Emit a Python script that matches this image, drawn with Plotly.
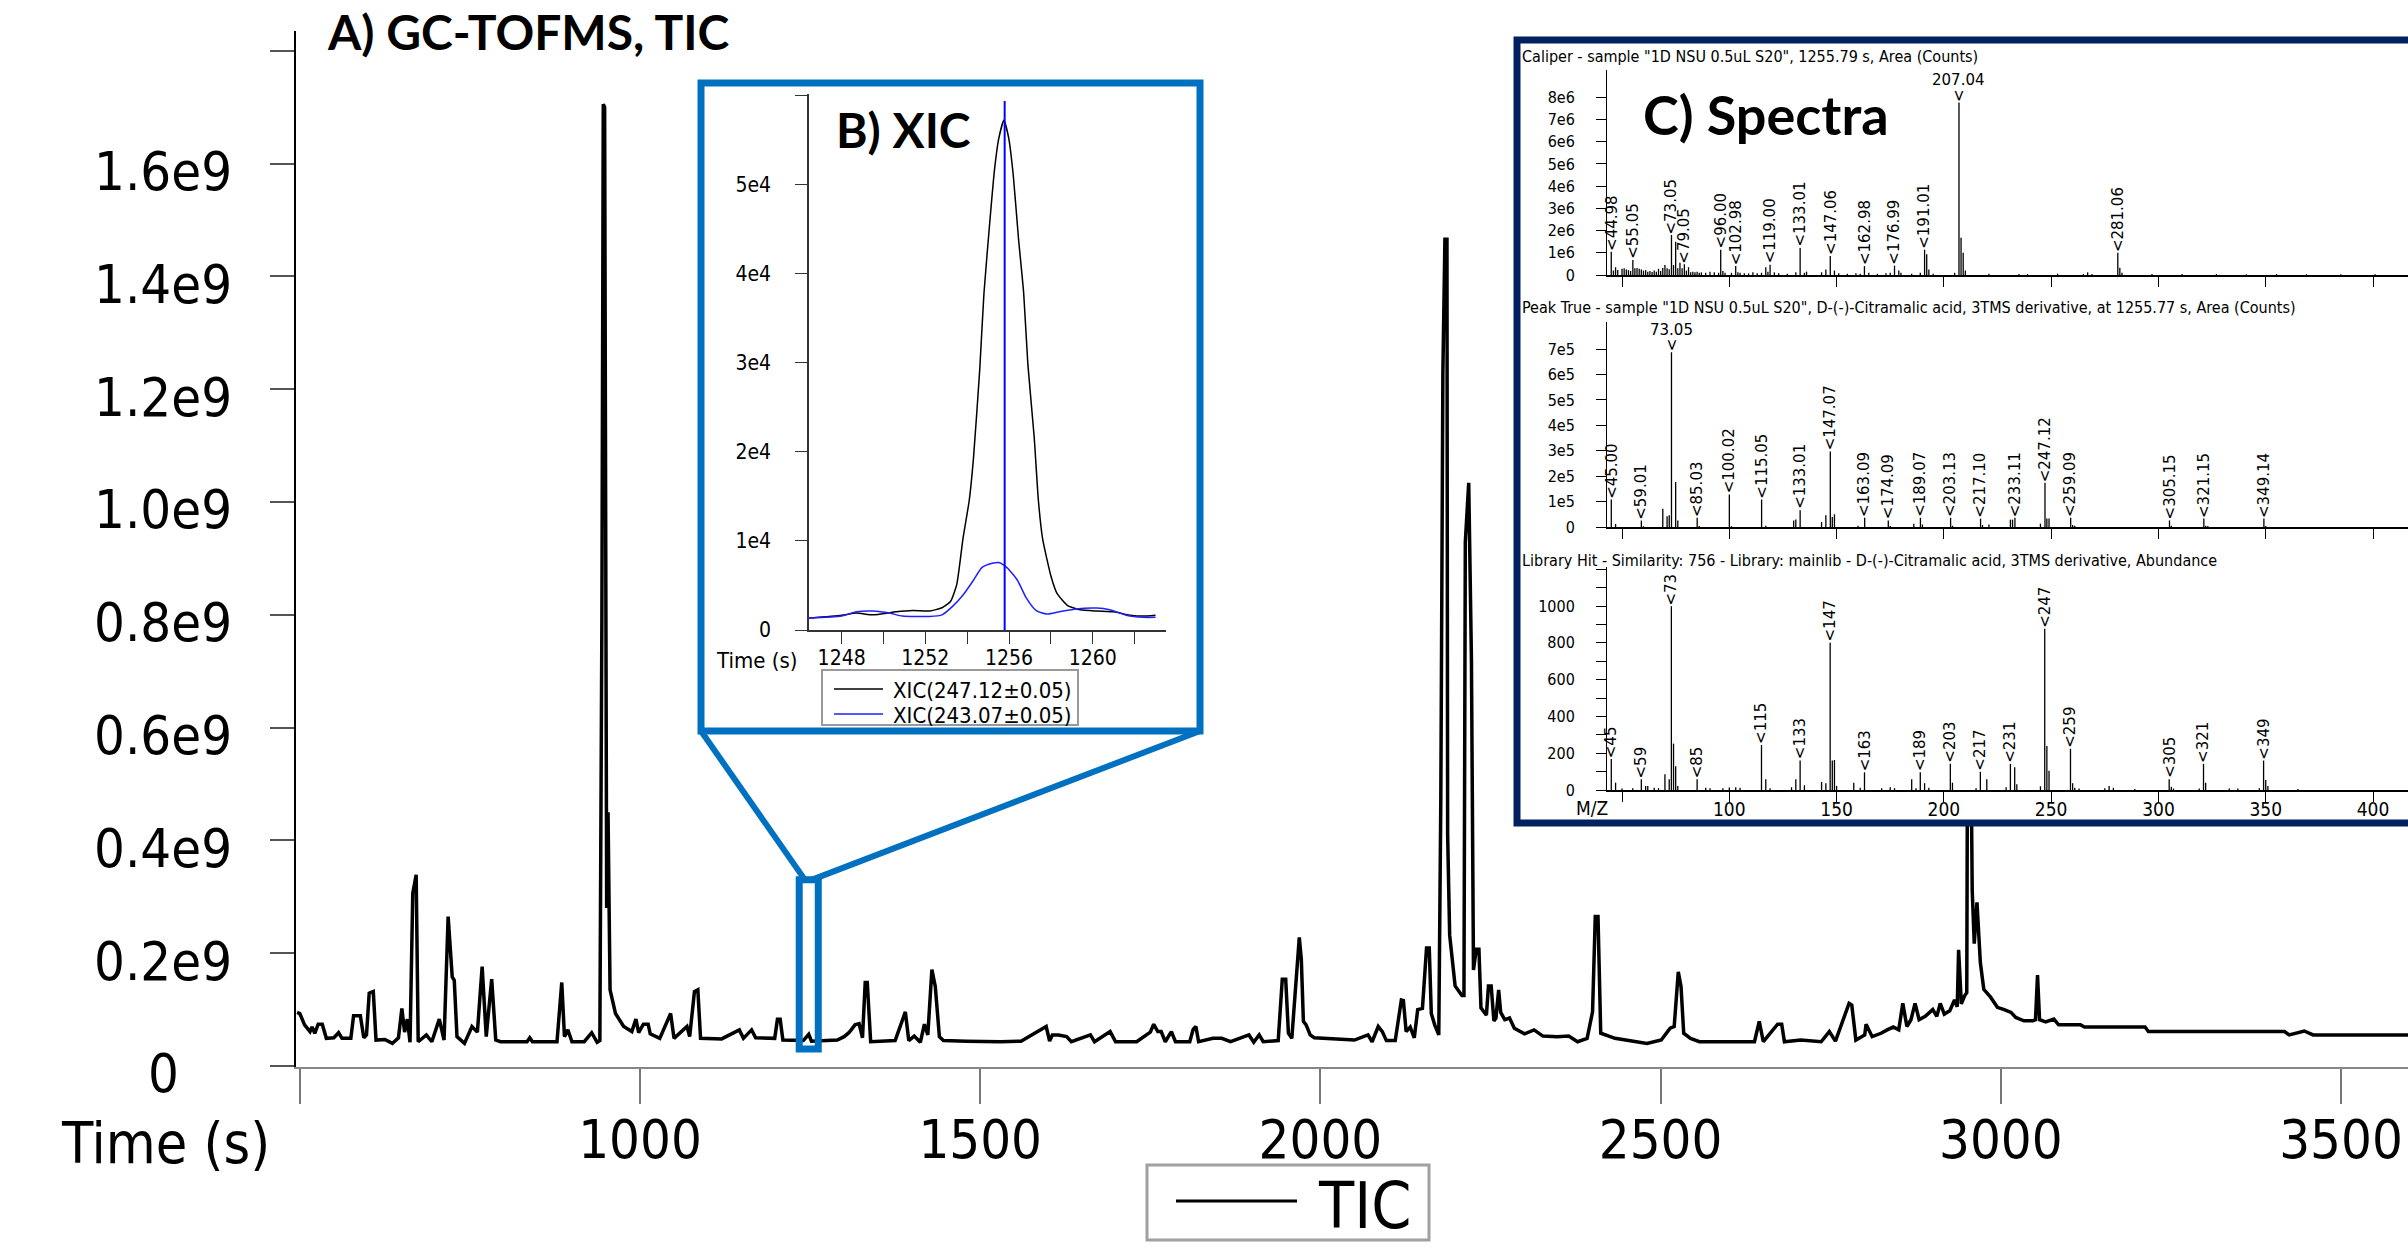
import plotly.graph_objects as go

# ======================= DATA =======================
# A) GC-TOFMS total ion chromatogram (time in s, intensity in units of 1e9)
tic_time = [
    496, 500, 507, 515, 518, 522, 527, 533, 539, 550,
    557, 562, 575, 579, 589, 594, 598, 602, 608, 612,
    625, 636, 645, 650, 654, 658, 662, 666, 671, 674,
    686, 694, 705, 712, 718, 724, 727, 731, 742, 753,
    761, 768, 774, 782, 788, 795, 834, 838, 842, 878,
    885, 889, 894, 900, 918, 929, 937, 941, 944, 946,
    948, 950, 951, 953, 956, 964, 976, 988, 994, 998,
    1005, 1012, 1015, 1029, 1045, 1050, 1064, 1069, 1073, 1080,
    1085, 1089, 1120, 1146, 1152, 1164, 1170, 1198, 1202, 1206,
    1210, 1240, 1248, 1252, 1290, 1300, 1307, 1316, 1322, 1327,
    1331, 1334, 1339, 1375, 1390, 1395, 1403, 1412, 1418, 1423,
    1429, 1434, 1440, 1446, 1480, 1530, 1560, 1592, 1597, 1602,
    1606, 1615, 1627, 1634, 1662, 1668, 1691, 1699, 1730, 1750,
    1755, 1761, 1766, 1772, 1781, 1787, 1808, 1813, 1817, 1821,
    1842, 1855, 1868, 1895, 1902, 1910, 1916, 1938, 1944, 1949,
    1953, 1958, 1963, 1969, 1972, 1975, 1979, 1985, 1991, 2050,
    2070, 2076, 2085, 2091, 2097, 2110, 2119, 2122, 2126, 2132,
    2138, 2143, 2150, 2156, 2160, 2163, 2168, 2174, 2177, 2180,
    2183, 2186, 2187, 2190, 2198, 2208, 2211, 2213, 2218, 2222,
    2225, 2229, 2233, 2236, 2244, 2247, 2251, 2255, 2258, 2262,
    2265, 2271, 2278, 2285, 2300, 2314, 2327, 2348, 2365, 2378,
    2392, 2400, 2404, 2408, 2412, 2433, 2480, 2501, 2514, 2520,
    2526, 2530, 2534, 2544, 2557, 2638, 2645, 2651, 2672, 2678,
    2682, 2706, 2736, 2748, 2757, 2777, 2781, 2787, 2800, 2802,
    2811, 2824, 2833, 2842, 2850, 2856, 2862, 2868, 2874, 2880,
    2889, 2900, 2906, 2911, 2917, 2925, 2932, 2936, 2938, 2942,
    2947, 2950, 2952, 2955, 2957, 2958, 2961, 2965, 2970, 2975,
    2985, 2995, 3005, 3015, 3022, 3034, 3047, 3051, 3054, 3057,
    3066, 3078, 3085, 3117, 3123, 3212, 3217, 3417, 3424, 3446,
    3459, 3599,
]
tic_e9 = [
    .095, .093, .073, .061, .069, .058, .074, .074, .049, .050,
    .059, .049, .049, .089, .089, .050, .055, .129, .132, .046,
    .047, .040, .050, .102, .060, .083, .042, .306, .339, .043,
    .055, .043, .083, .046, .265, .158, .152, .052, .040, .070,
    .060, .176, .052, .154, .046, .043, .043, .050, .043, .043,
    .148, .052, .064, .043, .043, .059, .042, .045, .800, 1.705,
    1.700, .900, .280, .450, .135, .093, .070, .061, .083, .059,
    .074, .074, .057, .049, .093, .049, .064, .070, .052, .132,
    .135, .049, .048, .064, .049, .064, .050, .049, .083, .083,
    .046, .045, .056, .044, .046, .052, .059, .073, .075, .050,
    .148, .148, .043, .045, .096, .045, .053, .042, .074, .055,
    .171, .141, .052, .045, .044, .043, .044, .067, .070, .044,
    .055, .055, .052, .043, .055, .043, .061, .043, .043, .060,
    .074, .061, .061, .043, .061, .043, .043, .065, .070, .043,
    .049, .049, .043, .055, .042, .055, .043, .045, .154, .154,
    .058, .049, .135, .228, .188, .079, .073, .055, .050, .046,
    .055, .043, .070, .061, .045, .045, .117, .116, .061, .069,
    .050, .100, .102, .209, .209, .093, .073, .055, .475, 1.227,
    1.466, 1.466, .411, .232, .142, .125, .125, .929, 1.034, .720,
    .170, .207, .207, .103, .090, .142, .142, .080, .085, .135,
    .095, .082, .085, .067, .057, .064, .053, .052, .053, .043,
    .049, .096, .265, .265, .058, .049, .040, .046, .067, .070,
    .167, .141, .058, .049, .043, .043, .079, .043, .074, .074,
    .043, .046, .043, .061, .044, .111, .108, .046, .055, .074,
    .052, .058, .064, .069, .064, .111, .070, .082, .111, .082,
    .088, .100, .088, .111, .092, .098, .117, .105, .206, .110,
    .125, .130, .950, .950, .450, .312, .217, .290, .183, .136,
    .122, .104, .100, .095, .086, .080, .080, .082, .161, .082,
    .078, .083, .073, .073, .069, .069, .061, .061, .055, .062,
    .055, .055,
]
assert len(tic_time) == len(tic_e9)

main_xtick_vals = [500, 1000, 1500, 2000, 2500, 3000, 3500]
main_xtick_text = ["", "1000", "1500", "2000", "2500", "3000", "3500"]
main_ytick_e9 = [0, 0.2, 0.4, 0.6, 0.8, 1.0, 1.2, 1.4, 1.6, 1.8]
main_ytick_text = ["0", "0.2e9", "0.4e9", "0.6e9", "0.8e9", "1.0e9", "1.2e9", "1.4e9", "1.6e9", ""]

# zoom window marked on the TIC (time s, intensity e9)
zoom_window_time = [1234, 1262]
zoom_window_e9 = [0.03, 0.33]

# B) extracted ion chromatograms
xic_time_247 = [1246.44, 1248.0, 1248.7, 1249.5, 1250.6, 1251.4, 1252.2, 1252.8, 1253.2, 1253.5,
                1253.8, 1254.1, 1254.3, 1254.6, 1254.8, 1255.1, 1255.3, 1255.5, 1255.75, 1255.98,
                1256.2, 1256.45, 1256.7, 1256.9, 1257.2, 1257.4, 1257.6, 1258.0, 1258.3, 1258.8,
                1259.4, 1260.2, 1261.0, 1261.8, 1262.4, 1263.0]
xic_int_247 = [1330, 1660, 1900, 1700, 2040, 2180, 2130, 2500, 3200, 5100,
               10300, 14600, 19300, 29300, 37800, 46400, 51600, 55100, 57250, 55300,
               51100, 44000, 37800, 29800, 21700, 14600, 10300, 6070, 4080, 2750,
               2270, 2130, 2040, 1660, 1560, 1660]
xic_time_243 = [1246.44, 1248.0, 1248.7, 1249.5, 1250.3, 1250.9, 1252.2, 1252.8, 1253.3, 1253.8,
                1254.3, 1254.7, 1255.2, 1255.5, 1255.9, 1256.4, 1256.8, 1257.3, 1257.8, 1258.4,
                1259.2, 1260.2, 1260.8, 1261.6, 1262.4, 1263.0]
xic_int_243 = [1330, 1560, 2040, 2130, 1900, 1560, 1520, 1700, 2650, 3930,
               5590, 7010, 7490, 7580, 7010, 5590, 3700, 2180, 1800, 2040,
               2370, 2460, 2270, 1660, 1420, 1420]
xic_names = ["XIC(247.12\u00b10.05)", "XIC(243.07\u00b10.05)"]
xic_marker_time = 1255.79
xic_xtick_vals = [1248, 1250, 1252, 1254, 1256, 1258, 1260, 1262]
xic_xtick_text = ["1248", "", "1252", "", "1256", "", "1260", ""]
xic_ytick_vals = [0, 10000, 20000, 30000, 40000, 50000, 60000]
xic_ytick_text = ["0", "1e4", "2e4", "3e4", "4e4", "5e4", ""]

# C) spectra
spec_xtick_vals = [50, 100, 150, 200, 250, 300, 350, 400]
spec_xtick_text = ["", "100", "150", "200", "250", "300", "350", "400"]

s1_title = 'Caliper - sample "1D NSU 0.5uL S20", 1255.79 s, Area (Counts)'
s1_lab_mz = [44.98, 55.05, 73.05, 79.05, 96.00, 102.98, 119.00, 133.01, 147.06, 162.98, 176.99, 191.01, 207.04, 281.06]
s1_lab_e6 = [1.05, 0.68, 1.80, 0.48, 1.14, 0.40, 0.46, 1.22, 0.85, 0.40, 0.42, 1.14, 7.77, 1.00]
s1_minor_mz = [46, 47, 48, 50, 51, 52, 53, 54, 56, 57,
               58, 59, 60, 61, 62, 63, 64, 65, 66, 67,
               68, 69, 70, 71, 72, 74, 75, 76, 77, 78,
               80, 81, 82, 83, 84, 85, 86, 87, 89, 91,
               93, 95, 97, 98, 101, 104, 105, 107, 109, 111,
               113, 115, 117, 118, 121, 123, 127, 131, 135, 136,
               143, 145, 149, 151, 155, 159, 161, 165, 169, 173,
               175, 179, 180, 185, 189, 192, 193, 195, 205, 208,
               209, 210, 221, 235, 239, 253, 265, 267, 269, 282,
               283, 297, 311, 327, 341, 355, 369, 385, 401]
s1_minor_e6 = [0.20, 0.35, 0.22, 0.28, 0.30, 0.25, 0.22, 0.18, 0.30, 0.32,
               0.28, 0.25, 0.20, 0.22, 0.15, 0.18, 0.14, 0.20, 0.15, 0.28,
               0.18, 0.32, 0.45, 0.30, 0.26, 0.45, 1.50, 0.30, 0.55, 0.30,
               0.20, 0.35, 0.12, 0.15, 0.12, 0.15, 0.10, 0.12, 0.10, 0.15,
               0.12, 0.10, 0.18, 0.10, 0.10, 0.12, 0.10, 0.08, 0.07, 0.12,
               0.08, 0.10, 0.35, 0.15, 0.12, 0.08, 0.06, 0.12, 0.10, 0.15,
               0.12, 0.25, 0.20, 0.08, 0.06, 0.08, 0.06, 0.10, 0.05, 0.08,
               0.10, 0.20, 0.10, 0.06, 0.10, 0.93, 0.25, 0.06, 0.10, 1.68,
               1.00, 0.20, 0.06, 0.05, 0.04, 0.06, 0.04, 0.12, 0.05, 0.33,
               0.10, 0.05, 0.04, 0.04, 0.03, 0.04, 0.03, 0.03, 0.03]
s1_ytick_e6 = [0, 1, 2, 3, 4, 5, 6, 7, 8]
s1_ytick_text = ["0", "1e6", "2e6", "3e6", "4e6", "5e6", "6e6", "7e6", "8e6"]
s1_flat_labels = [207.04]

s2_title = 'Peak True - sample "1D NSU 0.5uL S20", D-(-)-Citramalic acid, 3TMS derivative, at 1255.77 s, Area (Counts)'
s2_lab_mz = [45.00, 59.01, 73.05, 85.03, 100.02, 115.05, 133.01, 147.07, 163.09, 174.09,
             189.07, 203.13, 217.10, 233.11, 247.12, 259.09, 305.15, 321.15, 349.14]
s2_lab_e5 = [1.08, 0.26, 6.88, 0.36, 1.28, 1.08, 0.66, 2.97, 0.36, 0.26,
             0.36, 0.36, 0.33, 0.36, 1.74, 0.36, 0.26, 0.33, 0.33]
s2_minor_mz = [47, 60, 69, 71, 72, 75, 76, 86, 101, 117,
               130, 131, 143, 145, 148, 149, 160, 175, 186, 190,
               204, 218, 221, 231, 232, 245, 248, 249, 260, 261,
               306, 322, 323, 350]
s2_minor_e5 = [0.12, 0.03, 0.72, 0.42, 0.46, 1.77, 0.26, 0.04, 0.03, 0.05,
               0.26, 0.30, 0.20, 0.46, 0.39, 0.50, 0.05, 0.04, 0.13, 0.10,
               0.05, 0.08, 0.10, 0.29, 0.29, 0.13, 0.33, 0.33, 0.08, 0.05,
               0.05, 0.05, 0.04, 0.04]
s2_ytick_e5 = [0, 1, 2, 3, 4, 5, 6, 7]
s2_ytick_text = ["0", "1e5", "2e5", "3e5", "4e5", "5e5", "6e5", "7e5"]
s2_flat_labels = [73.05]

s3_title = "Library Hit - Similarity: 756 - Library: mainlib - D-(-)-Citramalic acid, 3TMS derivative, Abundance"
s3_lab_mz = [45, 59, 73, 85, 115, 133, 147, 163, 189, 203, 217, 231, 247, 259, 305, 321, 349]
s3_lab_ab = [169, 59, 999, 59, 245, 160, 800, 96, 96, 142, 99, 142, 877, 224, 59, 142, 160]
s3_minor_mz = [47, 61, 62, 70, 72, 74, 75, 76, 100, 117,
               131, 135, 143, 145, 148, 149, 150, 158, 185, 191,
               204, 220, 233, 234, 248, 249, 260, 277, 306, 322,
               350, 351, 50, 55, 65, 67, 89, 91, 97, 103,
               105, 119, 129, 161, 171, 175, 177, 187, 193, 215,
               229, 245, 261, 263, 275, 279, 289, 307, 319, 333,
               337, 347, 365]
s3_minor_ab = [40, 22, 22, 86, 59, 252, 129, 22, 13, 59,
               59, 26, 44, 37, 160, 163, 22, 40, 59, 37,
               40, 59, 123, 31, 239, 105, 37, 22, 18, 40,
               55, 22, 8, 10, 12, 10, 12, 10, 10, 15,
               12, 10, 15, 12, 10, 15, 10, 10, 12, 10,
               15, 20, 12, 8, 10, 12, 6, 8, 8, 8,
               8, 10, 5]
s3_ytick_vals = [0, 100, 200, 300, 400, 500, 600, 700, 800, 900, 1000, 1100, 1200]
s3_ytick_text = ["0", "", "200", "", "400", "", "600", "", "800", "", "1000", "", ""]
s3_flat_labels = []

# ======================= GEOMETRY / STYLE =======================
W, H = 2408, 1253
PL, PR, PT, PB = 296, 2408, 31, 1067       # main plot area in pixels


def fx(p):
    return (p - PL) / (PR - PL)


def fy(p):
    return (PB - p) / (PB - PT)


NARROW = "DejaVu Sans Condensed, Liberation Sans Narrow, Liberation Sans, sans-serif"
BOLD = "Lato, Roboto, DejaVu Sans, sans-serif"
SPEC = "DejaVu Sans, Verdana, sans-serif"
BLUE_BOX = "#0070C0"
NAVY = "#002060"
XIC_BLUE = "#2020ff"
BIG = 54

main_xr = [494.4, 3598.5]
main_yr = [-0.0018e9, 1.835e9]


def dx(t):  # data -> paper for main x
    return (t - main_xr[0]) / (main_xr[1] - main_xr[0])


def dy(v):
    return (v - main_yr[0]) / (main_yr[1] - main_yr[0])


def sticks(mz, val, scale):
    xs, ys = [], []
    for m, v in zip(mz, val, strict=True):
        xs += [m, m, None]
        ys += [0, v * scale, None]
    return xs, ys


fig = go.Figure()

# main TIC
fig.add_trace(go.Scatter(x=tic_time, y=[v * 1e9 for v in tic_e9], mode="lines",
                         line=dict(color="black", width=3.5), name="TIC",
                         xaxis="x", yaxis="y", showlegend=False))
# XIC inset
fig.add_trace(go.Scatter(x=xic_time_247, y=xic_int_247, mode="lines",
                         line=dict(color="black", width=1.5, shape="spline", smoothing=0.5),
                         name=xic_names[0], xaxis="x2", yaxis="y2", showlegend=False))
fig.add_trace(go.Scatter(x=xic_time_243, y=xic_int_243, mode="lines",
                         line=dict(color=XIC_BLUE, width=1.5, shape="spline", smoothing=0.6),
                         name=xic_names[1], xaxis="x2", yaxis="y2", showlegend=False))
# white cover behind the spectra panel
fig.add_trace(go.Scatter(x=[None], y=[None], xaxis="x3", yaxis="y3", showlegend=False, hoverinfo="skip"))

spectra = [
    ("x4", "y4", s1_lab_mz, s1_lab_e6, s1_minor_mz, s1_minor_e6, 1e6, s1_flat_labels, "{:.2f}"),
    ("x5", "y5", s2_lab_mz, s2_lab_e5, s2_minor_mz, s2_minor_e5, 1e5, s2_flat_labels, "{:.2f}"),
    ("x6", "y6", s3_lab_mz, s3_lab_ab, s3_minor_mz, s3_minor_ab, 1.0, s3_flat_labels, "{:.0f}"),
]
LABFONT = dict(size=15, family=SPEC, color="black")
annotations = []
for xa, ya, lmz, lval, mmz, mval, sc, flat, fmt in spectra:
    xs, ys = sticks(list(lmz) + list(mmz), list(lval) + list(mval), sc)
    fig.add_trace(go.Scatter(x=xs, y=ys, mode="lines", line=dict(color="black", width=1.3),
                             xaxis=xa, yaxis=ya, showlegend=False, hoverinfo="skip"))
    for m, v in zip(lmz, lval, strict=True):
        txt = fmt.format(m)
        if m in flat:
            annotations.append(dict(x=m, y=v * sc, xref=xa, yref=ya, text="<", textangle=-90,
                                    xanchor="center", yanchor="bottom", showarrow=False, borderpad=0,
                                    font=LABFONT))
            annotations.append(dict(x=m, y=v * sc, xref=xa, yref=ya, text=txt, yshift=12,
                                    xanchor="center", yanchor="bottom", showarrow=False, borderpad=0,
                                    font=LABFONT))
        else:
            annotations.append(dict(x=m, y=v * sc, xref=xa, yref=ya, text="<" + txt, textangle=-90,
                                    xanchor="center", yanchor="bottom", showarrow=False, borderpad=0,
                                    font=LABFONT))

# main y tick labels (centred, as in the original)
for v, t in zip(main_ytick_e9, main_ytick_text, strict=True):
    if t:
        annotations.append(dict(x=fx(163), xref="paper", y=v * 1e9, yref="y", text=t, showarrow=False,
                                xanchor="center", yanchor="middle", yshift=-8,
                                font=dict(size=BIG, family=NARROW, color="black")))

annotations += [
    dict(x=fx(165), y=fy(1143), xref="paper", yref="paper", text="Time (s)", showarrow=False,
         xanchor="center", yanchor="middle", font=dict(size=57, family=NARROW, color="black")),
    dict(x=fx(325), y=fy(31), xref="paper", yref="paper", text="<b>A) GC-TOFMS, TIC</b>", showarrow=False,
         xanchor="left", yanchor="middle", font=dict(size=48, family=BOLD, color="black")),
    dict(x=fx(834), y=fy(130), xref="paper", yref="paper", text="<b>B) XIC</b>", showarrow=False,
         xanchor="left", yanchor="middle", font=dict(size=48, family=BOLD, color="black")),
    dict(x=fx(1641), y=fy(115), xref="paper", yref="paper", text="<b>C) Spectra</b>", showarrow=False,
         xanchor="left", yanchor="middle", font=dict(size=54, family=BOLD, color="black")),
    dict(x=fx(756), y=fy(660), xref="paper", yref="paper", text="Time (s)", showarrow=False,
         xanchor="center", yanchor="middle", font=dict(size=22, family=NARROW, color="black")),
    dict(x=fx(1592), y=fy(808), xref="paper", yref="paper", text="M/Z", showarrow=False,
         xanchor="center", yanchor="middle", font=dict(size=19, family=NARROW, color="black")),
    # legends
    dict(x=fx(1316), y=fy(1206), xref="paper", yref="paper", text="TIC", showarrow=False,
         xanchor="left", yanchor="middle", font=dict(size=64, family=NARROW, color="black")),
    dict(x=fx(891), y=fy(690), xref="paper", yref="paper", text=xic_names[0], showarrow=False,
         xanchor="left", yanchor="middle", font=dict(size=22, family=NARROW, color="black")),
    dict(x=fx(891), y=fy(715), xref="paper", yref="paper", text=xic_names[1], showarrow=False,
         xanchor="left", yanchor="middle", font=dict(size=22, family=NARROW, color="black")),
]
for ttl, ypx in [(s1_title, 57), (s2_title, 307), (s3_title, 560)]:
    annotations.append(dict(x=fx(1520), y=fy(ypx), xref="paper", yref="paper", text=ttl, showarrow=False,
                            xanchor="left", yanchor="middle", font=dict(size=16, family=NARROW, color="black")))

# ---------------- shapes ----------------
zw = zoom_window_time[1] - zoom_window_time[0]
shapes = [
    # zoom window on TIC
    dict(type="rect", xref="x", yref="y", x0=zoom_window_time[0], x1=zoom_window_time[1],
         y0=zoom_window_e9[0] * 1e9, y1=zoom_window_e9[1] * 1e9, line=dict(color=BLUE_BOX, width=7), layer="above"),
    # connectors
    dict(type="line", xref="paper", yref="paper", x0=fx(701), y0=fy(731),
         x1=dx(zoom_window_time[0] + 0.3 * zw), y1=dy(zoom_window_e9[1] * 1e9),
         line=dict(color=BLUE_BOX, width=6)),
    dict(type="line", xref="paper", yref="paper", x0=fx(1200), y0=fy(731),
         x1=dx(zoom_window_time[0] + 0.65 * zw), y1=dy(zoom_window_e9[1] * 1e9),
         line=dict(color=BLUE_BOX, width=6)),
    # XIC box
    dict(type="rect", xref="paper", yref="paper", x0=fx(701), x1=fx(1200), y0=fy(731), y1=fy(83),
         line=dict(color=BLUE_BOX, width=7)),
    # spectra box
    dict(type="rect", xref="paper", yref="paper", x0=fx(1517), x1=fx(2430), y0=fy(823), y1=fy(40),
         line=dict(color=NAVY, width=7)),
    # XIC marker line
    dict(type="line", xref="x2", yref="y2 domain", x0=xic_marker_time, x1=xic_marker_time, y0=0, y1=0.987,
         line=dict(color="#0000ff", width=2)),
    # XIC legend
    dict(type="rect", xref="paper", yref="paper", x0=fx(822), x1=fx(1078), y0=fy(725), y1=fy(670),
         line=dict(color="#999999", width=2), fillcolor="white", layer="above"),
    dict(type="line", xref="paper", yref="paper", x0=fx(834), x1=fx(883), y0=fy(689), y1=fy(689),
         line=dict(color="black", width=1.5)),
    dict(type="line", xref="paper", yref="paper", x0=fx(834), x1=fx(883), y0=fy(714), y1=fy(714),
         line=dict(color=XIC_BLUE, width=1.5)),
    # main legend
    dict(type="rect", xref="paper", yref="paper", x0=fx(1147), x1=fx(1429), y0=fy(1240), y1=fy(1165),
         line=dict(color="#a0a0a0", width=3)),
    dict(type="line", xref="paper", yref="paper", x0=fx(1176), x1=fx(1297), y0=fy(1201), y1=fy(1201),
         line=dict(color="black", width=3)),
]

# ---------------- axes ----------------
spec_x_common = dict(range=[43, 416.3], domain=[fx(1607), 1.0], tickvals=spec_xtick_vals,
                     ticks="outside", ticklen=10, tickcolor="black", tickwidth=1,
                     showline=True, linecolor="black", linewidth=1.5, showgrid=False, zeroline=False)
spec_y_common = dict(ticks="outside", ticklen=10, tickcolor="black", tickwidth=1, ticklabelstandoff=18,
                     showline=True, linecolor="black", linewidth=1, showgrid=False, zeroline=False,
                     tickfont=dict(size=16, family=NARROW, color="black"))

fig.update_layout(
    width=W, height=H,
    margin=dict(l=PL, r=W - PR, t=PT, b=H - PB, pad=0),
    paper_bgcolor="white", plot_bgcolor="white", showlegend=False,
    xaxis=dict(domain=[0, 1], range=main_xr, anchor="y", tickvals=main_xtick_vals, ticktext=main_xtick_text,
               ticks="outside", ticklen=35, tickwidth=2, tickcolor="#777777", showline=True, linecolor="#888888",
               linewidth=2, showgrid=False, zeroline=False, ticklabelstandoff=-11, ticklabeloverflow="allow",
               tickfont=dict(size=BIG, family=NARROW, color="black")),
    yaxis=dict(domain=[0, 1], range=main_yr, anchor="x", tickvals=[v * 1e9 for v in main_ytick_e9],
               ticks="outside", ticklen=24, tickwidth=2, tickcolor="#555555", showticklabels=False,
               showline=True, linecolor="black", linewidth=1.5, showgrid=False, zeroline=False),
    xaxis2=dict(domain=[fx(809), fx(1166)], range=[1246.44, 1263.5], anchor="y2", tickvals=xic_xtick_vals,
                ticktext=xic_xtick_text, ticks="outside", ticklen=12, tickcolor="#333333", showline=True,
                linecolor="#333333", linewidth=1.5, showgrid=False, zeroline=False, ticklabelstandoff=-4,
                tickfont=dict(size=21, family=NARROW, color="black")),
    yaxis2=dict(domain=[fy(630), fy(94)], range=[0, 60200], anchor="x2", tickvals=xic_ytick_vals,
                ticktext=xic_ytick_text, ticks="outside", ticklen=12, tickcolor="#333333", showline=True,
                linecolor="#333333", linewidth=1.5, showgrid=False, zeroline=False, ticklabelstandoff=20,
                tickfont=dict(size=21, family=NARROW, color="black")),
    xaxis3=dict(domain=[fx(1517), 1.0], range=[0, 1], anchor="y3", visible=False),
    yaxis3=dict(domain=[fy(823), fy(40)], range=[0, 1], anchor="x3", visible=False),
    xaxis4=dict(anchor="y4", showticklabels=False, **spec_x_common),
    yaxis4=dict(domain=[fy(275), fy(70)], range=[0, 9.23e6], anchor="x4",
                tickvals=[v * 1e6 for v in s1_ytick_e6], ticktext=s1_ytick_text, **spec_y_common),
    xaxis5=dict(anchor="y5", showticklabels=False, **spec_x_common),
    yaxis5=dict(domain=[fy(527), fy(322)], range=[0, 8.07e5], anchor="x5",
                tickvals=[v * 1e5 for v in s2_ytick_e5], ticktext=s2_ytick_text, **spec_y_common),
    xaxis6=dict(anchor="y6", ticktext=spec_xtick_text, ticklabelstandoff=-9, ticklabeloverflow="allow",
                tickfont=dict(size=19, family=NARROW, color="black"), **spec_x_common),
    yaxis6=dict(domain=[fy(790), fy(567)], range=[0, 1212], anchor="x6",
                tickvals=s3_ytick_vals, ticktext=s3_ytick_text, **spec_y_common),
    annotations=annotations,
    shapes=shapes,
)

fig.write_html("out.html", config={"displayModeBar": False},
               post_script="document.body.style.margin='0';")
